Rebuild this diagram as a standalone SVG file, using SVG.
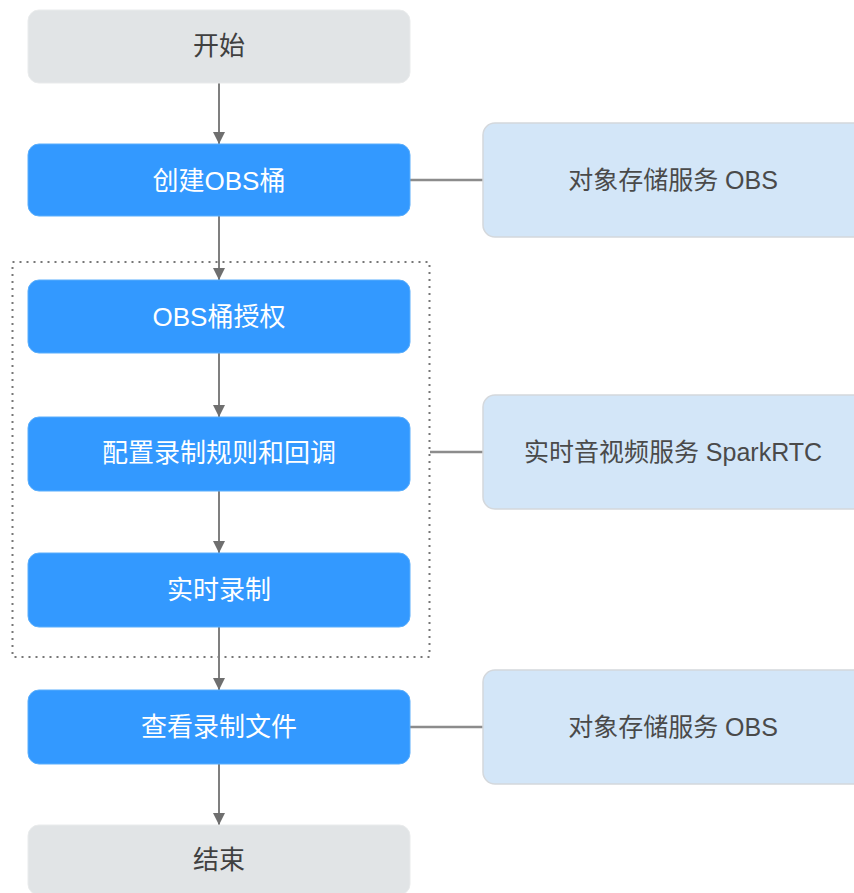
<svg xmlns="http://www.w3.org/2000/svg" width="854" height="893" viewBox="0 0 854 893">
<defs>
<style>
.gray{fill:#e1e4e6;stroke:#e9ebec;stroke-width:1}
.blue{fill:#3399ff;stroke:#5aaefc;stroke-width:1}
.side{fill:#d3e6f8;stroke:#d4d8dc;stroke-width:1.5}
.t{font-family:"Liberation Sans","Noto Sans CJK SC",sans-serif;font-size:26px;text-anchor:middle;dominant-baseline:central}
.tw{fill:#ffffff}
.td{fill:#404040}
.ts{fill:#4a4a4a;font-size:25px}
.line{stroke:#7f7f7f;stroke-width:2;fill:none}
.hline{stroke:#8c8c8c;stroke-width:2.5;fill:none}
.grp{fill:none;stroke:#777777;stroke-width:2;stroke-dasharray:2 5}
</style>
<marker id="arr" viewBox="0 0 12 12" refX="12" refY="6" markerWidth="12" markerHeight="12" markerUnits="userSpaceOnUse" orient="auto">
<path d="M0,0 L12,6 L0,12 Z" fill="#6f6f6f"/>
</marker>
</defs>
<rect width="854" height="893" fill="#ffffff"/>
<g id="group-box">
<rect class="grp" x="12.5" y="262" width="417" height="395"/>
</g>
<g id="connectors">
<line class="line" x1="219" y1="83" x2="219" y2="144" marker-end="url(#arr)"/>
<line class="line" x1="219" y1="216" x2="219" y2="280" marker-end="url(#arr)"/>
<line class="line" x1="219" y1="353" x2="219" y2="417" marker-end="url(#arr)"/>
<line class="line" x1="219" y1="491" x2="219" y2="553" marker-end="url(#arr)"/>
<line class="line" x1="219" y1="627" x2="219" y2="690" marker-end="url(#arr)"/>
<line class="line" x1="219" y1="764" x2="219" y2="825" marker-end="url(#arr)"/>
<line class="hline" x1="410" y1="180" x2="483" y2="180"/>
<line class="hline" x1="430" y1="452" x2="483" y2="452"/>
<line class="hline" x1="410" y1="727" x2="483" y2="727"/>
</g>
<g id="start">
<rect class="gray" x="28" y="10" width="382" height="73" rx="11"/>
<text class="t td" x="219" y="46">开始</text>
</g>
<g id="create-bucket">
<rect class="blue" x="28" y="144" width="382" height="72" rx="11"/>
<text class="t tw" x="219" y="181">创建OBS桶</text>
</g>
<g id="authorize">
<rect class="blue" x="28" y="280" width="382" height="73" rx="11"/>
<text class="t tw" x="219" y="317">OBS桶授权</text>
</g>
<g id="configure">
<rect class="blue" x="28" y="417" width="382" height="74" rx="11"/>
<text class="t tw" x="219" y="453">配置录制规则和回调</text>
</g>
<g id="record">
<rect class="blue" x="28" y="553" width="382" height="74" rx="11"/>
<text class="t tw" x="219" y="590">实时录制</text>
</g>
<g id="view-files">
<rect class="blue" x="28" y="690" width="382" height="74" rx="11"/>
<text class="t tw" x="219" y="727">查看录制文件</text>
</g>
<g id="end">
<rect class="gray" x="28" y="825" width="382" height="70" rx="11"/>
<text class="t td" x="219" y="860">结束</text>
</g>
<g id="obs-1">
<rect class="side" x="483" y="123" width="385" height="114" rx="12"/>
<text class="t ts" x="673" y="180">对象存储服务 OBS</text>
</g>
<g id="sparkrtc">
<rect class="side" x="483" y="395" width="385" height="114" rx="12"/>
<text class="t ts" x="673" y="452">实时音视频服务 SparkRTC</text>
</g>
<g id="obs-2">
<rect class="side" x="483" y="670" width="385" height="114" rx="12"/>
<text class="t ts" x="673" y="727">对象存储服务 OBS</text>
</g>
</svg>
